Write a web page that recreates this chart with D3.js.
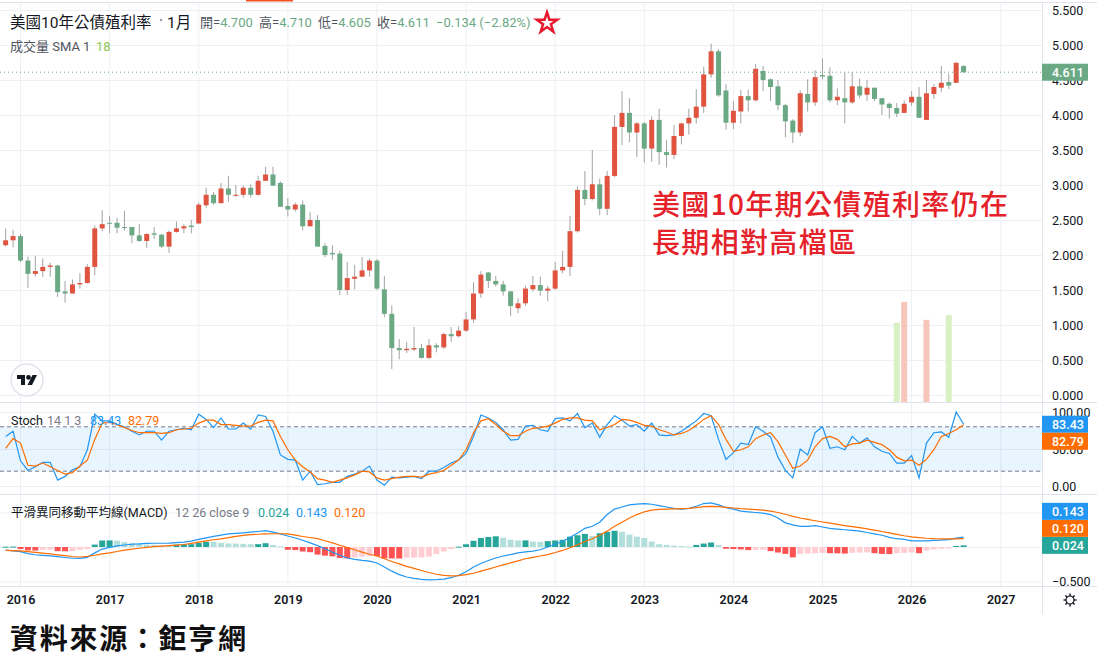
<!DOCTYPE html>
<html>
<head>
<meta charset="utf-8">
<script src="https://cdn.jsdelivr.net/npm/d3@7"></script>
<style>
body { margin: 0; background: #fff; }
svg { display: block; font-family: Roboto, "Noto Sans CJK TC", sans-serif; }
</style>
</head>
<body>
<svg id="chart" width="1116" height="660"></svg>
<script>
// monthly candles, Nov 2015 .. Aug 2026
var open = [2.14,2.21,2.27,1.92,1.73,1.77,1.83,1.85,1.48,1.45,1.58,1.60,
  1.83,2.38,2.46,2.46,2.40,2.40,2.28,2.20,2.31,2.29,2.12,2.33,
  2.38,2.42,2.45,2.71,2.86,2.74,2.95,2.85,2.86,2.96,2.86,3.06,
  3.15,3.03,2.70,2.65,2.72,2.41,2.50,2.13,2.03,2.02,1.50,1.66,
  1.69,1.78,1.92,1.51,1.16,0.67,0.64,0.65,0.67,0.53,0.71,0.68,
  0.87,0.84,0.92,1.08,1.45,1.75,1.63,1.58,1.48,1.24,1.31,1.51,
  1.57,1.49,1.52,1.78,1.83,2.34,2.93,2.80,3.01,2.66,3.13,3.83,
  4.03,3.75,3.88,3.52,3.93,3.47,3.43,3.70,3.88,3.96,4.12,4.58,
  4.91,4.35,3.89,4.05,4.27,4.21,4.63,4.51,4.41,4.14,3.92,3.75,
  4.30,4.18,4.57,4.56,4.21,4.24,4.18,4.41,4.29,4.39,4.24,4.16,
  4.10,4.03,4.18,4.26,3.93,4.30,4.39,4.47,4.46,4.70];
var high = [2.38,2.36,2.30,1.98,1.99,1.95,1.89,1.86,1.63,1.65,1.74,1.87,
  2.42,2.64,2.56,2.53,2.63,2.40,2.44,2.31,2.40,2.30,2.35,2.48,
  2.44,2.50,2.75,2.96,2.90,3.03,3.13,3.00,2.99,3.01,3.13,3.26,
  3.26,3.05,2.81,2.75,2.78,2.61,2.57,2.17,2.14,2.06,1.90,1.86,
  1.97,1.95,1.94,1.70,1.28,0.80,0.76,0.97,0.73,0.80,0.74,0.89,
  0.97,0.98,1.19,1.61,1.77,1.76,1.70,1.63,1.48,1.38,1.56,1.70,
  1.69,1.56,1.90,2.06,2.56,2.98,3.20,3.50,3.09,3.20,4.00,4.34,
  4.24,3.90,3.90,3.98,4.09,3.64,3.86,3.89,4.09,4.37,4.69,5.02,
  4.94,4.44,4.20,4.36,4.36,4.73,4.70,4.52,4.50,4.16,3.94,4.35,
  4.51,4.64,4.81,4.68,4.38,4.60,4.61,4.52,4.50,4.39,4.24,4.18,
  4.17,4.21,4.34,4.40,4.50,4.44,4.70,4.59,4.76,4.71];
var low = [2.12,2.11,1.90,1.53,1.69,1.69,1.69,1.40,1.32,1.45,1.52,1.59,
  1.71,2.34,2.31,2.31,2.35,2.17,2.19,2.10,2.23,2.10,2.03,2.32,
  2.31,2.31,2.44,2.67,2.72,2.74,2.76,2.83,2.82,2.82,2.85,3.06,
  2.99,2.69,2.55,2.62,2.35,2.41,2.12,1.97,1.93,1.43,1.43,1.51,
  1.69,1.69,1.50,1.11,0.37,0.51,0.60,0.63,0.52,0.51,0.61,0.66,
  0.76,0.82,0.90,1.03,1.39,1.53,1.55,1.42,1.13,1.17,1.27,1.48,
  1.42,1.34,1.50,1.74,1.70,2.32,2.71,2.78,2.57,2.57,3.11,3.57,
  3.61,3.40,3.32,3.33,3.29,3.25,3.37,3.58,3.72,3.88,4.03,4.53,
  4.26,3.79,3.80,3.88,4.05,4.19,4.34,4.20,4.07,3.68,3.60,3.70,
  4.05,4.13,4.51,4.18,4.14,3.88,4.16,4.24,4.20,4.20,4.00,3.95,
  3.97,4.03,4.13,3.96,3.93,4.23,4.33,4.37,4.46,4.605];
var close = [2.21,2.27,1.92,1.73,1.77,1.83,1.85,1.47,1.45,1.58,1.60,1.83,
  2.38,2.44,2.45,2.39,2.39,2.28,2.20,2.30,2.29,2.12,2.33,2.38,
  2.41,2.40,2.72,2.86,2.74,2.95,2.86,2.86,2.96,2.86,3.06,3.15,
  2.99,2.69,2.65,2.72,2.41,2.50,2.12,2.00,2.01,1.50,1.67,1.69,
  1.78,1.92,1.52,1.16,0.67,0.64,0.66,0.67,0.53,0.71,0.68,0.87,
  0.84,0.92,1.08,1.45,1.72,1.63,1.58,1.48,1.27,1.31,1.52,1.57,
  1.49,1.52,1.78,1.83,2.34,2.93,2.80,3.01,2.66,3.13,3.83,4.03,
  3.75,3.88,3.52,3.93,3.47,3.43,3.70,3.88,3.96,4.12,4.58,4.91,
  4.28,3.89,4.06,4.27,4.21,4.66,4.50,4.40,4.14,3.91,3.75,4.31,
  4.18,4.54,4.55,4.21,4.26,4.18,4.41,4.28,4.39,4.23,4.15,4.10,
  4.02,4.16,4.26,3.96,4.31,4.40,4.46,4.42,4.745,4.611];

// volume (only the last few months carry it)
var volIndex = [120, 121, 124, 127];
var volValue = [16.4, 20.7, 17.0, 18.0];

// Stoch 14 1 3
var stochK = [67,74,34,21,26,32,32,8,13,22,26,49,
  97,88,88,83,80,74,69,74,74,62,74,76,
  78,76,97,90,79,92,77,77,85,77,96,94,
  74,42,36,35,8,20,2,3,5,5,13,16,
  20,27,8,1,12,11,12,13,10,20,20,25,
  31,35,44,67,96,92,86,76,62,63,81,82,
  76,74,91,92,88,98,79,85,66,83,95,89,
  81,83,74,85,69,68,69,74,81,88,98,95,
  63,36,45,58,56,80,74,66,39,21,11,50,
  42,72,80,51,53,49,67,58,65,53,47,44,
  31,31,41,11,58,72,73,66,100,83.43];
var stochD = [51,64,58,28,27,31,26,21,16,18,27,35,
  63,85,86,83,79,75,72,72,72,71,72,76,
  77,78,85,89,89,83,83,82,81,81,86,89,
  88,67,49,35,26,19,10,8,5,8,11,15,
  20,19,11,8,10,12,13,13,12,16,18,21,
  28,35,49,72,88,91,83,74,68,68,74,78,
  79,81,85,90,92,92,89,88,76,79,83,90,
  89,86,82,81,76,73,69,71,75,82,90,95,
  83,63,47,49,53,64,69,72,60,42,24,27,
  35,53,64,67,63,53,57,58,62,59,56,49,
  39,34,35,28,36,49,67,71,76,82.79];

// MACD 12 26 9
var macdLine = [-0.045,-0.055,-0.068,-0.095,-0.112,-0.122,-0.13,-0.14,-0.152,-0.163,-0.166,-0.15,
  -0.085,-0.03,-0.005,0.015,0.029,0.04,0.046,0.052,0.054,0.054,0.056,0.062,
  0.07,0.085,0.11,0.133,0.153,0.172,0.19,0.198,0.206,0.215,0.225,0.237,
  0.215,0.19,0.16,0.13,0.098,0.06,0.02,-0.025,-0.075,-0.12,-0.16,-0.18,
  -0.195,-0.205,-0.232,-0.29,-0.35,-0.4,-0.435,-0.455,-0.468,-0.476,-0.474,-0.465,
  -0.445,-0.41,-0.36,-0.29,-0.24,-0.196,-0.16,-0.13,-0.11,-0.085,-0.07,-0.06,
  -0.04,0.0,0.04,0.08,0.14,0.2,0.27,0.3,0.36,0.47,0.55,0.58,
  0.61,0.62,0.63,0.62,0.6,0.58,0.56,0.55,0.56,0.59,0.63,0.64,
  0.61,0.57,0.55,0.52,0.51,0.5,0.49,0.47,0.42,0.35,0.32,0.3,
  0.3,0.31,0.29,0.27,0.26,0.25,0.24,0.23,0.21,0.19,0.17,0.14,
  0.12,0.11,0.09,0.09,0.09,0.095,0.1,0.108,0.128,0.143];
var signalLine = [-0.048,-0.052,-0.057,-0.066,-0.078,-0.09,-0.1,-0.113,-0.125,-0.138,-0.145,-0.135,
  -0.12,-0.1,-0.085,-0.065,-0.046,-0.03,-0.018,-0.005,0.005,0.014,0.02,0.027,
  0.036,0.052,0.07,0.088,0.105,0.118,0.135,0.155,0.168,0.178,0.185,0.19,
  0.192,0.192,0.19,0.172,0.152,0.138,0.122,0.09,0.06,0.025,-0.01,-0.04,
  -0.075,-0.105,-0.13,-0.17,-0.21,-0.244,-0.28,-0.31,-0.34,-0.37,-0.395,-0.41,
  -0.418,-0.415,-0.4,-0.38,-0.35,-0.32,-0.29,-0.26,-0.23,-0.2,-0.17,-0.15,
  -0.13,-0.11,-0.08,-0.05,-0.01,0.03,0.08,0.12,0.17,0.23,0.3,0.36,
  0.42,0.47,0.51,0.535,0.545,0.55,0.553,0.556,0.56,0.57,0.585,0.59,
  0.585,0.575,0.565,0.555,0.548,0.542,0.535,0.52,0.5,0.475,0.445,0.42,
  0.4,0.38,0.362,0.345,0.328,0.31,0.295,0.28,0.262,0.245,0.225,0.205,
  0.183,0.163,0.148,0.136,0.127,0.121,0.118,0.118,0.119,0.120];
var histogram = [0.004,0.006,-0.03,-0.05,-0.052,-0.04,-0.038,-0.06,-0.062,-0.06,-0.04,-0.03,
  0.035,0.094,0.096,0.092,0.07,0.06,0.045,0.035,0.033,0.025,0.024,0.035,
  0.04,0.041,0.06,0.075,0.074,0.06,0.05,0.049,0.045,0.04,0.041,0.055,
  0.03,0.01,-0.04,-0.045,-0.065,-0.075,-0.11,-0.125,-0.135,-0.16,-0.165,-0.15,
  -0.14,-0.13,-0.132,-0.165,-0.166,-0.167,-0.155,-0.154,-0.15,-0.14,-0.10,-0.065,
  -0.03,0.005,0.04,0.09,0.13,0.145,0.155,0.135,0.105,0.095,0.096,0.08,
  0.075,0.085,0.095,0.105,0.15,0.17,0.19,0.16,0.2,0.22,0.235,0.22,
  0.18,0.15,0.13,0.08,0.04,0.03,0.02,0.015,0.005,0.03,0.05,0.065,
  0.03,-0.025,-0.03,-0.035,-0.045,-0.04,-0.039,-0.06,-0.08,-0.1,-0.15,-0.1,
  -0.095,-0.09,-0.085,-0.09,-0.092,-0.095,-0.085,-0.08,-0.078,-0.09,-0.1,-0.102,
  -0.09,-0.085,-0.08,-0.09,-0.05,-0.035,-0.025,-0.02,0.015,0.024];

// axis ticks
var priceTicks = [0, 0.5, 1, 1.5, 2, 2.5, 3, 3.5, 4, 4.5, 5, 5.5];
var stochTicks = [0, 50, 100];
var macdTicks = [-0.5, 0, 0.5];
var years = [2016, 2017, 2018, 2019, 2020, 2021, 2022, 2023, 2024, 2025, 2026, 2027];

var plotRight = 1042;
var gridColor = "#eef0f4";
var lineColor = "#e0e3eb";
var textColor = "#131722";
var upColor = "#e0533f", downColor = "#6aa984";
var blue = "#2196f3", orange = "#ff6d00", teal = "#26a69a";

var svg = d3.select("#chart");
var yearIndex = function(yr) { return (yr - 2015) * 12 - 10; };

var x = d3.scaleLinear().domain([0, close.length - 1]).range([5.65, 963.6]);
var y = d3.scaleLinear().domain([0, 5.5]).range([395, 10]);
var yVol = d3.scaleLinear().domain([0, 24]).range([402, 286]);
var yK = d3.scaleLinear().domain([0, 100]).range([486, 412]);
var yM = d3.scaleLinear().domain([-0.5, 0.5]).range([581.5, 512.5]);

var defs = svg.append("defs");
[["clipMain", 3, 399], ["clipStoch", 402, 92], ["clipMacd", 494, 92]].forEach(function(c) {
  defs.append("clipPath").attr("id", c[0]).append("rect")
    .attr("x", 0).attr("y", c[1]).attr("width", plotRight).attr("height", c[2]);
});

// ---- grid ----
var grid = svg.append("g");
grid.selectAll("line.vg").data(years).enter().append("line")
  .attr("x1", function(d) { return x(yearIndex(d)); })
  .attr("x2", function(d) { return x(yearIndex(d)); })
  .attr("y1", 3).attr("y2", 586)
  .attr("stroke", gridColor);

function hGrid(scale, ticks) {
  var g = grid.append("g").attr("transform", "translate(" + plotRight + ",0)")
    .call(d3.axisLeft(scale).tickValues(ticks).tickSize(plotRight).tickFormat(""));
  g.select(".domain").remove();
  g.selectAll(".tick line").attr("stroke", gridColor);
}
hGrid(y, priceTicks);
hGrid(yK, stochTicks);
hGrid(yM, macdTicks);

// ---- main pane ----
var main = svg.append("g").attr("clip-path", "url(#clipMain)");

main.selectAll("rect.vol").data(volIndex).enter().append("rect")
  .attr("x", function(d) { return x(d) - 3; })
  .attr("width", 6)
  .attr("y", function(d, k) { return yVol(volValue[k]); })
  .attr("height", function(d, k) { return yVol(0) - yVol(volValue[k]); })
  .attr("fill", function(d) { return close[d] >= open[d] ? "#f6c6bb" : "#d9f0c2"; });

var candle = main.selectAll("g.candle").data(close).enter().append("g");
candle.append("line")
  .attr("x1", function(d, i) { return x(i); })
  .attr("x2", function(d, i) { return x(i); })
  .attr("y1", function(d, i) { return y(high[i]); })
  .attr("y2", function(d, i) { return y(low[i]); })
  .attr("stroke", "#a3a3a3").attr("stroke-width", 1);
candle.append("rect")
  .attr("x", function(d, i) { return x(i) - 2.5; })
  .attr("width", 5)
  .attr("y", function(d, i) { return y(Math.max(open[i], d)); })
  .attr("height", function(d, i) { return Math.max(1, Math.abs(y(open[i]) - y(d))); })
  .attr("fill", function(d, i) { return d >= open[i] ? upColor : downColor; });

var last = close[close.length - 1];
svg.append("line")
  .attr("x1", 0).attr("x2", plotRight)
  .attr("y1", y(last)).attr("y2", y(last))
  .attr("stroke", downColor).attr("stroke-dasharray", "1,3");

// annotation
var note = svg.append("g").attr("fill", "#e5212a")
  .attr("font-family", "'Noto Sans CJK TC', sans-serif").attr("font-weight", 500).attr("font-size", 28);
note.append("text").attr("x", 652).attr("y", 215).attr("textLength", 356).attr("lengthAdjust", "spacing")
  .text("美國10年期公債殖利率仍在");
note.append("text").attr("x", 652).attr("y", 253).attr("textLength", 204).attr("lengthAdjust", "spacing")
  .text("長期相對高檔區");

// TV logo
var logo = svg.append("g").attr("transform", "translate(27,380)");
logo.append("circle").attr("r", 16).attr("fill", "#fff").attr("stroke", "#e0e3eb").attr("stroke-width", 1.5);
logo.append("path").attr("d", "M-10,-5H-2V5H-6V-1H-10Z").attr("fill", textColor);
logo.append("circle").attr("cx", 1.5).attr("cy", -2.6).attr("r", 2.4).attr("fill", textColor);
logo.append("path").attr("d", "M5.5,-5H10L5,5H0.5Z").attr("fill", textColor);

// ---- stoch pane ----
var stoch = svg.append("g").attr("clip-path", "url(#clipStoch)");
stoch.append("rect").attr("x", 0).attr("width", plotRight)
  .attr("y", yK(80)).attr("height", yK(20) - yK(80))
  .attr("fill", "rgba(33,150,243,0.1)");
[80, 20].forEach(function(v) {
  stoch.append("line").attr("x1", 0).attr("x2", plotRight)
    .attr("y1", yK(v)).attr("y2", yK(v))
    .attr("stroke", "#787b86").attr("stroke-dasharray", "4,3");
});
var kLine = d3.line().x(function(d, i) { return x(i); }).y(function(d) { return yK(d); });
stoch.append("path").attr("d", kLine(stochK)).attr("fill", "none").attr("stroke", blue).attr("stroke-width", 1.2);
stoch.append("path").attr("d", kLine(stochD)).attr("fill", "none").attr("stroke", orange).attr("stroke-width", 1.2);

// ---- MACD pane ----
var macd = svg.append("g").attr("clip-path", "url(#clipMacd)");
macd.selectAll("rect.hist").data(histogram).enter().append("rect")
  .attr("x", function(d, i) { return x(i) - 3; })
  .attr("width", 6)
  .attr("y", function(d) { return Math.min(yM(0), yM(d)); })
  .attr("height", function(d) { return Math.max(1, Math.abs(yM(d) - yM(0))); })
  .attr("fill", function(d, i) {
    var prev = i > 0 ? histogram[i - 1] : -Infinity;
    if (d >= 0) return d > prev ? teal : "#b2dfdb";
    return d > prev ? "#ffcdd2" : "#ff5252";
  });
var mLine = d3.line().x(function(d, i) { return x(i); }).y(function(d) { return yM(d); });
macd.append("path").attr("d", mLine(macdLine)).attr("fill", "none").attr("stroke", blue).attr("stroke-width", 1.2);
macd.append("path").attr("d", mLine(signalLine)).attr("fill", "none").attr("stroke", orange).attr("stroke-width", 1.2);

// ---- frame lines ----
var frame = svg.append("g").attr("stroke", lineColor);
frame.append("line").attr("x1", 0).attr("x2", 1097).attr("y1", 2.5).attr("y2", 2.5);
[402, 494, 586].forEach(function(v) {
  frame.append("line").attr("x1", 0).attr("x2", 1097).attr("y1", v + 0.5).attr("y2", v + 0.5);
});
frame.append("line").attr("x1", plotRight + 0.5).attr("x2", plotRight + 0.5).attr("y1", 2).attr("y2", 614);
svg.append("rect").attr("x", 246).attr("y", 0).attr("width", 47).attr("height", 1.5).attr("fill", "#f4511e");

// ---- right axes ----
function rightAxis(scale, ticks, fmt) {
  var g = svg.append("g").attr("transform", "translate(" + plotRight + ",0)")
    .call(d3.axisRight(scale).tickValues(ticks).tickFormat(fmt).tickSize(0).tickPadding(10));
  g.select(".domain").remove();
  g.selectAll("text").attr("font-size", 12.5).attr("fill", textColor)
    .attr("font-family", "Roboto, sans-serif");
}
rightAxis(y, priceTicks, d3.format(".3f"));
rightAxis(yK, stochTicks, d3.format(".2f"));
rightAxis(yM, macdTicks, d3.format(".3f"));

function valueBox(yc, color, label) {
  svg.append("rect").attr("x", plotRight).attr("y", yc - 8.5).attr("width", 46).attr("height", 17)
    .attr("fill", color);
  svg.append("text").attr("x", plotRight + 10).attr("y", yc + 4.5)
    .attr("font-size", 12.5).attr("font-weight", 500).attr("fill", "#fff").text(label);
}
valueBox(y(last), downColor, d3.format(".3f")(last));
var kLast = stochK[stochK.length - 1], dLast = stochD[stochD.length - 1];
valueBox(yK(kLast), blue, d3.format(".2f")(kLast));
valueBox(yK(kLast) + 17, orange, d3.format(".2f")(dLast));
var hLast = histogram[histogram.length - 1];
valueBox(yM(hLast), teal, d3.format(".3f")(hLast));
valueBox(yM(hLast) - 17, orange, d3.format(".3f")(signalLine[signalLine.length - 1]));
valueBox(yM(hLast) - 34, blue, d3.format(".3f")(macdLine[macdLine.length - 1]));

// ---- time axis ----
var tAxis = svg.append("g").attr("transform", "translate(0,586)")
  .call(d3.axisBottom(x).tickValues(years.map(yearIndex))
    .tickFormat(function(i) { return 2016 + (i - 2) / 12; }).tickSize(0).tickPadding(9));
tAxis.select(".domain").remove();
tAxis.selectAll("text").attr("font-size", 12.5).attr("font-weight", 600).attr("fill", textColor)
  .attr("font-family", "Roboto, sans-serif");

// gear
var gear = svg.append("g").attr("transform", "translate(1070,600)").attr("stroke", textColor).attr("fill", "none");
gear.append("circle").attr("r", 4).attr("stroke-width", 1.2);
d3.range(8).forEach(function(k) {
  var a = k * Math.PI / 4;
  gear.append("line").attr("x1", 4 * Math.cos(a)).attr("y1", 4 * Math.sin(a))
    .attr("x2", 6.5 * Math.cos(a)).attr("y2", 6.5 * Math.sin(a)).attr("stroke-width", 1.4);
});

// ---- legends ----
var hdr = svg.append("g").attr("font-size", 13);
hdr.append("text").attr("x", 10).attr("y", 28).attr("font-size", 15.5).attr("fill", textColor).text("美國10年公債殖利率");
hdr.append("circle").attr("cx", 161).attr("cy", 20).attr("r", 1.2).attr("fill", "#9598a1");
hdr.append("text").attr("x", 167).attr("y", 28).attr("font-size", 15.5).attr("fill", textColor).text("1月");
var ohlcLabels = [["開=", open], ["高=", high], ["低=", low], ["收=", close]];
var ohlcX = [200, 259, 318, 377];
ohlcLabels.forEach(function(p, k) {
  var t = hdr.append("text").attr("x", ohlcX[k]).attr("y", 27);
  t.append("tspan").attr("fill", "#50535e").text(p[0]);
  t.append("tspan").attr("fill", downColor).text(d3.format(".3f")(p[1][p[1].length - 1]));
});
var prevClose = close[close.length - 2];
var chg = last - prevClose;
hdr.append("text").attr("x", 436).attr("y", 27).attr("fill", downColor)
  .text(d3.format(".3f")(chg) + " (" + d3.format(".2f")(chg / prevClose * 100) + "%)");
hdr.append("path").attr("d", d3.symbol(d3.symbolStar).size(130)())
  .attr("transform", "translate(547,23)").attr("fill", "#fff").attr("stroke", "#e8192c").attr("stroke-width", 2.5)
  .attr("stroke-linejoin", "miter");

var volLeg = svg.append("text").attr("x", 10).attr("y", 51).attr("font-size", 13);
volLeg.append("tspan").attr("fill", "#50535e").text("成交量 SMA 1");
volLeg.append("tspan").attr("x", 96).attr("fill", "#8cc751").text(d3.format("d")(volValue[volValue.length - 1]));

var stLeg = svg.append("text").attr("y", 425).attr("font-size", 12.5);
stLeg.append("tspan").attr("x", 11).attr("fill", textColor).text("Stoch");
stLeg.append("tspan").attr("x", 47).attr("fill", "#787b86").text("14 1 3");
stLeg.append("tspan").attr("x", 90).attr("fill", blue).text(d3.format(".2f")(kLast));
stLeg.append("tspan").attr("x", 128).attr("fill", orange).text(d3.format(".2f")(dLast));

var mdLeg = svg.append("text").attr("y", 517).attr("font-size", 12.5);
mdLeg.append("tspan").attr("x", 11).attr("fill", textColor).text("平滑異同移動平均線(MACD)");
mdLeg.append("tspan").attr("x", 175).attr("fill", "#787b86").text("12 26 close 9");
mdLeg.append("tspan").attr("x", 258).attr("fill", teal).text(d3.format(".3f")(hLast));
mdLeg.append("tspan").attr("x", 296).attr("fill", blue).text(d3.format(".3f")(macdLine[macdLine.length - 1]));
mdLeg.append("tspan").attr("x", 334).attr("fill", orange).text(d3.format(".3f")(signalLine[signalLine.length - 1]));

// source
svg.append("text").attr("x", 10).attr("y", 649).attr("font-size", 28).attr("font-weight", 700)
  .attr("font-family", "'Noto Sans CJK TC', sans-serif").attr("fill", "#111")
  .attr("textLength", 236).attr("lengthAdjust", "spacing")
  .text("資料來源：鉅亨網");
</script>
</body>
</html>
